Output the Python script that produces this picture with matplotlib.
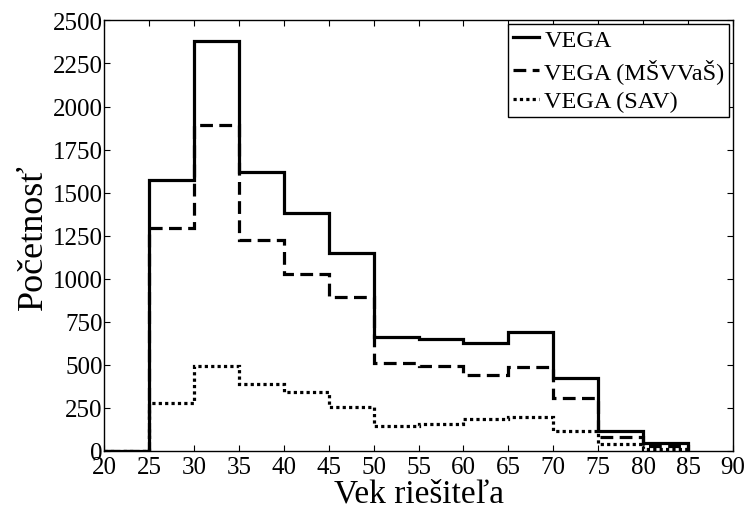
import numpy as np
import matplotlib
matplotlib.use("Agg")
import matplotlib.pyplot as plt

# bin edges (age) and counts per bin
edges = [20, 25, 30, 35, 40, 45, 50, 55, 60, 65, 70, 75, 80, 85]
vega = [0, 1575, 2380, 1620, 1380, 1152, 660, 650, 628, 688, 425, 115, 45]
vega_msvvas = [0, 1295, 1895, 1227, 1030, 891, 509, 492, 440, 486, 305, 80, 30]
vega_sav = [0, 280, 490, 390, 340, 255, 145, 157, 186, 198, 118, 38, 12]

plt.rcParams['font.family'] = ['Liberation Serif', 'DejaVu Serif']

fig = plt.figure(figsize=(7.48, 5.10), dpi=100)
ax = fig.add_axes([0.139, 0.114, 0.841, 0.844])

ax.stairs(vega, edges, color='black', linewidth=2.3, linestyle='-', label='VEGA', baseline=0)
ax.stairs(vega_msvvas, edges, color='black', linewidth=2.3, linestyle=(0, (4, 2)), label='VEGA (MŠVVaŠ)', baseline=0)
ax.stairs(vega_sav, edges, color='black', linewidth=2.3, linestyle=(0, (1, 1)), label='VEGA (SAV)', baseline=0)

ax.set_xlim(20, 90)
ax.set_ylim(0, 2500)
ax.set_xticks(np.arange(20, 91, 5))
ax.set_yticks(np.arange(0, 2501, 250))
ax.tick_params(axis='both', direction='in', top=True, right=True, labelsize=18, length=4)
ax.tick_params(axis='x', pad=4)
ax.tick_params(axis='y', pad=1)
for s in ax.spines.values():
    s.set_linewidth(1.0)

ax.set_xlabel('Vek riešiteľa', fontsize=24, va='baseline')
ax.xaxis.set_label_coords(0.5, -0.118)
ax.set_ylabel('Početnosť', fontsize=26, labelpad=2)

leg = ax.legend(loc='upper right', fontsize=17.5, handlelength=1.1, handletextpad=0.2,
                borderpad=0.2, labelspacing=0.3, borderaxespad=0.15, fancybox=False,
                framealpha=1, edgecolor='black')
leg.get_frame().set_linewidth(1.0)

fig.savefig('out.png', dpi=100)
